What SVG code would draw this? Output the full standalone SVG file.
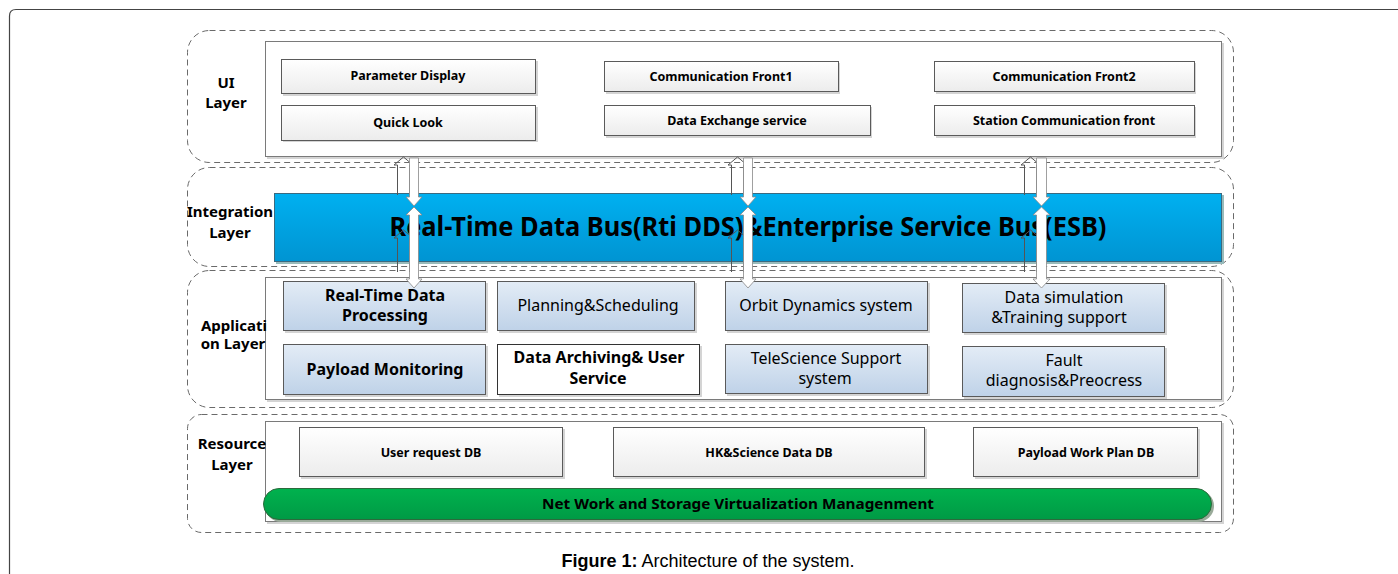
<svg xmlns="http://www.w3.org/2000/svg" width="1398" height="574" viewBox="0 0 1398 574">
<defs>
<linearGradient id="gBox" x1="0" y1="0" x2="0" y2="1"><stop offset="0" stop-color="#ffffff"/><stop offset="1" stop-color="#ececec"/></linearGradient>
<linearGradient id="gApp" x1="0" y1="0" x2="0" y2="1"><stop offset="0" stop-color="#e3ecf6"/><stop offset="1" stop-color="#bfd2e8"/></linearGradient>
<linearGradient id="gBus" x1="0" y1="0" x2="0" y2="1"><stop offset="0" stop-color="#00b0f0"/><stop offset="1" stop-color="#0094d2"/></linearGradient>
<linearGradient id="gNet" x1="0" y1="0" x2="0" y2="1"><stop offset="0" stop-color="#00b24e"/><stop offset="1" stop-color="#009a45"/></linearGradient>
<style>
.layer{fill:#fff;stroke:#6a6a6a;stroke-width:1;stroke-dasharray:6,4}
.inner{fill:#fff;stroke:#7a7a7a;stroke-width:1}
.shadow{fill:#d4d4d4}
.box{fill:url(#gBox);stroke:#5a5a5a;stroke-width:1}
.app{fill:url(#gApp);stroke:#5a5a5a;stroke-width:1}
.appw{fill:#fff;stroke:#333;stroke-width:1}
.lbl{font-family:"Noto Sans","Open Sans","DejaVu Sans",sans-serif;font-weight:bold;font-size:15px;fill:#000;text-anchor:middle}
.t{font-family:"Noto Sans","Open Sans","DejaVu Sans",sans-serif;font-weight:bold;font-size:12.5px;fill:#000;text-anchor:middle}
.a{font-family:"Noto Sans","Open Sans","DejaVu Sans",sans-serif;font-size:16px;fill:#000;text-anchor:middle}
.ab{font-weight:bold}
.upo{fill:none;stroke:#555;stroke-width:1}
.dnw{fill:#fff;stroke:#888;stroke-width:0.8}
</style>
</defs>
<rect width="1398" height="574" fill="#fff"/>
<path d="M9.5 574 V16 Q9.5 9.5 16 9.5 H1398" fill="none" stroke="#444" stroke-width="1.2"/>
<text x="708" y="567" font-family="'Liberation Sans',Arial,sans-serif" font-size="18" text-anchor="middle" fill="#000"><tspan font-weight="bold">Figure 1:</tspan> Architecture of the system.</text>

<g id="layer-ui">
<rect class="layer" x="187.5" y="30.5" width="1046" height="132" rx="22"/>
<rect class="shadow" x="267" y="43" width="957" height="116"/>
<rect class="inner" x="265.5" y="41.5" width="956" height="115"/>
<text class="lbl" x="226" y="88">UI</text>
<text class="lbl" x="226" y="108">Layer</text>
</g>
<g id="n-param"><rect class="shadow" x="283" y="61" width="255" height="35"/><rect class="box" x="281.5" y="59.5" width="254" height="34"/><text class="t" x="408" y="80" font-size="11">Parameter Display</text></g>
<g id="n-quick"><rect class="shadow" x="283" y="107" width="255" height="35"/><rect class="box" x="281.5" y="105.5" width="254" height="35"/><text class="t" x="408" y="127" font-size="11">Quick Look</text></g>
<g id="n-comm1"><rect class="shadow" x="606" y="63" width="234" height="31"/><rect class="box" x="604.5" y="61.5" width="234" height="30"/><text class="t" x="721" y="81">Communication Front1</text></g>
<g id="n-dex"><rect class="shadow" x="606" y="107" width="266" height="31"/><rect class="box" x="604.5" y="105.5" width="266" height="30"/><text class="t" x="737" y="125">Data Exchange service</text></g>
<g id="n-comm2"><rect class="shadow" x="936" y="63" width="260" height="31"/><rect class="box" x="934.5" y="61.5" width="260" height="30"/><text class="t" x="1064" y="81">Communication Front2</text></g>
<g id="n-station"><rect class="shadow" x="936" y="107" width="260" height="31"/><rect class="box" x="934.5" y="105.5" width="260" height="30"/><text class="t" x="1064" y="125">Station Communication front</text></g>

<g id="layer-integration">
<rect class="layer" x="187.5" y="167.5" width="1046" height="99" rx="22"/>
<text class="lbl" x="230" y="217">Integration</text>
<text class="lbl" x="230" y="238">Layer</text>
</g>
<g id="n-bus">
<rect x="276" y="195" width="948" height="69" fill="#9bb"/>
<rect x="274.5" y="193.5" width="947" height="68" fill="url(#gBus)" stroke="#3a6a80" stroke-width="1"/>
<text x="748" y="236" font-family="'Noto Sans','Open Sans','DejaVu Sans',sans-serif" font-weight="bold" font-size="26" text-anchor="middle" textLength="717" lengthAdjust="spacingAndGlyphs" fill="#000">Real-Time Data Bus(Rti DDS)&amp;Enterprise Service Bus(ESB)</text>
</g>

<g id="layer-application">
<rect class="layer" x="187.5" y="270.5" width="1046" height="137" rx="22"/>
<rect class="shadow" x="267" y="279" width="957" height="123"/>
<rect class="inner" x="265.5" y="277.5" width="956" height="122"/>
<text class="lbl" x="234" y="331">Applicati</text>
<text class="lbl" x="233" y="349">on Layer</text>
</g>
<g id="n-rtdp"><rect class="shadow" x="285" y="283" width="203" height="50"/><rect class="app" x="283.5" y="281.5" width="202" height="49"/><text class="a ab" x="385" y="301">Real-Time Data</text><text class="a ab" x="385" y="321">Processing</text></g>
<g id="n-plan"><rect class="shadow" x="499" y="283" width="198" height="50"/><rect class="app" x="497.5" y="281.5" width="197" height="49"/><text class="a" x="598" y="311">Planning&amp;Scheduling</text></g>
<g id="n-orbit"><rect class="shadow" x="727" y="283" width="203" height="50"/><rect class="app" x="725.5" y="281.5" width="202" height="49"/><text class="a" x="826" y="311">Orbit Dynamics system</text></g>
<g id="n-sim"><rect class="shadow" x="964" y="285" width="203" height="50"/><rect class="app" x="962.5" y="283.5" width="202" height="49"/><text class="a" x="1064" y="303">Data simulation</text><text class="a" x="1059" y="323">&amp;Training support</text></g>
<g id="n-payload"><rect class="shadow" x="285" y="346" width="203" height="51"/><rect class="app" x="283.5" y="344.5" width="202" height="50"/><text class="a ab" x="385" y="375">Payload Monitoring</text></g>
<g id="n-archive"><rect class="shadow" x="499" y="346" width="203" height="51"/><rect class="appw" x="497.5" y="344.5" width="202" height="50"/><text class="a ab" x="599" y="363">Data Archiving&amp; User</text><text class="a ab" x="598" y="384">Service</text></g>
<g id="n-tele"><rect class="shadow" x="727" y="346" width="203" height="50"/><rect class="app" x="725.5" y="344.5" width="202" height="49"/><text class="a" x="826" y="364">TeleScience Support</text><text class="a" x="825" y="384">system</text></g>
<g id="n-fault"><rect class="shadow" x="964" y="348" width="203" height="51"/><rect class="app" x="962.5" y="346.5" width="202" height="50"/><text class="a" x="1064" y="366">Fault</text><text class="a" x="1064" y="386">diagnosis&amp;Preocress</text></g>

<g id="layer-resource">
<rect class="layer" x="187.5" y="414.5" width="1046" height="118" rx="14"/>
<rect class="shadow" x="267" y="423" width="957" height="101"/>
<rect class="inner" x="265.5" y="421.5" width="956" height="100"/>
<text class="lbl" x="232" y="449">Resource</text>
<text class="lbl" x="232" y="470">Layer</text>
</g>
<g id="n-userdb"><rect class="shadow" x="301" y="429" width="264" height="50"/><rect class="box" x="299.5" y="427.5" width="263" height="49"/><text class="t" x="431" y="457">User request DB</text></g>
<g id="n-hkdb"><rect class="shadow" x="615" y="429" width="312" height="50"/><rect class="box" x="613.5" y="427.5" width="311" height="49"/><text class="t" x="769" y="457">HK&amp;Science Data DB</text></g>
<g id="n-plandb"><rect class="shadow" x="975" y="429" width="225" height="50"/><rect class="box" x="973.5" y="427.5" width="224" height="49"/><text class="t" x="1086" y="457">Payload Work Plan DB</text></g>
<g id="n-net">
<rect x="265" y="490" width="949" height="32" rx="16" fill="#9a9"/>
<rect x="263.5" y="488.5" width="948" height="31" rx="15.5" fill="url(#gNet)" stroke="#2c6a3c" stroke-width="1"/>
<text x="738" y="509" font-family="'Noto Sans','Open Sans','DejaVu Sans',sans-serif" font-weight="bold" font-size="15" text-anchor="middle" textLength="392" lengthAdjust="spacingAndGlyphs" fill="#000">Net Work and Storage Virtualization Managenment</text>
</g>

<g id="connectors">
<path class="upo" d="M397.5 195 V165 H394 L403.5 157 L413 165 H409.5 V195"/>
<path class="dnw" d="M409.5 158 H418.5 V197 H422 L414 206 L406 197 H409.5 Z"/>
<path class="upo" d="M397.5 272 V238 H394 L403.5 230 L413 238 H409.5 V272"/>
<path class="dnw" d="M414 207 L422 215 H418.5 V279 H422 L414 288 L406 279 H409.5 V215 H406 Z"/>
<path class="upo" d="M731.5 195 V165 H728 L737.5 157 L747 165 H743.5 V195"/>
<path class="dnw" d="M743.5 158 H752.5 V197 H756 L748 206 L740 197 H743.5 Z"/>
<path class="upo" d="M731.5 272 V238 H728 L737.5 230 L747 238 H743.5 V272"/>
<path class="dnw" d="M748 207 L756 215 H752.5 V279 H756 L748 288 L740 279 H743.5 V215 H740 Z"/>
<path class="upo" d="M1024.5 195 V165 H1021 L1030.5 157 L1040 165 H1036.5 V195"/>
<path class="dnw" d="M1036.5 158 H1046.5 V197 H1050 L1041.5 206 L1033 197 H1036.5 Z"/>
<path class="upo" d="M1024.5 272 V238 H1021 L1030.5 230 L1040 238 H1036.5 V272"/>
<path class="dnw" d="M1041.5 207 L1050 215 H1046.5 V279 H1050 L1041.5 288 L1033 279 H1036.5 V215 H1033 Z"/>
</g>
</svg>
